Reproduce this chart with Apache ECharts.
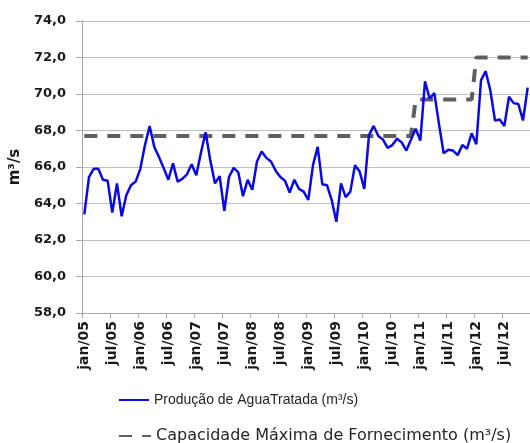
<!DOCTYPE html>
<html>
<head>
<meta charset="utf-8">
<script src="https://cdn.jsdelivr.net/npm/echarts@6/dist/echarts.min.js"></script>
<style>
html,body{margin:0;padding:0;background:#fff;}
#chart{width:530px;height:443px;}
</style>
</head>
<body>
<div id="chart"></div>
<script>
// Months jan/05 .. dec/12
const monthNames = ['jan','fev','mar','abr','mai','jun','jul','ago','set','out','nov','dez'];
const years = ['05','06','07','08','09','10','11','12'];
const categories = [];
years.forEach(y => monthNames.forEach(m => categories.push(m + '/' + y)));

const yTicks = [58, 60, 62, 64, 66, 68, 70, 72, 74];

const producao = [
  63.4, 65.45, 65.9, 65.9, 65.3, 65.25, 63.5, 65.1, 63.3, 64.45, 65.0, 65.2,
  65.9, 67.2, 68.25, 67.1, 66.55, 65.95, 65.3, 66.2, 65.2, 65.35, 65.6, 66.15,
  65.55, 66.8, 67.9, 66.35, 65.1, 65.5, 63.6, 65.45, 65.95, 65.7, 64.4, 65.3,
  64.75, 66.3, 66.85, 66.5, 66.3, 65.8, 65.45, 65.25, 64.6, 65.3, 64.8, 64.65,
  64.2, 66.1, 67.1, 65.05, 65.0, 64.2, 63.0, 65.1, 64.35, 64.65, 66.1, 65.75,
  64.8, 67.75, 68.25, 67.7, 67.5, 67.05, 67.2, 67.55, 67.35, 66.9, 67.5, 68.1,
  67.45, 70.7, 69.75, 70.05, 68.35, 66.75, 66.95, 66.9, 66.65, 67.2, 67.0, 67.85,
  67.25, 70.75, 71.25, 70.2, 68.55, 68.6, 68.25, 69.85, 69.5, 69.45, 68.55, 70.35
];

const capacidade = [
  67.7, 67.7, 67.7, 67.7, 67.7, 67.7, 67.7, 67.7, 67.7, 67.7, 67.7, 67.7,
  67.7, 67.7, 67.7, 67.7, 67.7, 67.7, 67.7, 67.7, 67.7, 67.7, 67.7, 67.7,
  67.7, 67.7, 67.7, 67.7, 67.7, 67.7, 67.7, 67.7, 67.7, 67.7, 67.7, 67.7,
  67.7, 67.7, 67.7, 67.7, 67.7, 67.7, 67.7, 67.7, 67.7, 67.7, 67.7, 67.7,
  67.7, 67.7, 67.7, 67.7, 67.7, 67.7, 67.7, 67.7, 67.7, 67.7, 67.7, 67.7,
  67.7, 67.7, 67.7, 67.7, 67.7, 67.7, 67.7, 67.7, 67.7, 67.7, 67.7, 69.7,
  69.7, 69.7, 69.7, 69.7, 69.7, 69.7, 69.7, 69.7, 69.7, 69.7, 69.7, 69.7,
  72.0, 72.0, 72.0, 72.0, 72.0, 72.0, 72.0, 72.0, 72.0, 72.0, 72.0, 72.0
];

const seriesNames = ['Produção de AguaTratada (m³/s)', 'Capacidade Máxima de Fornecimento (m³/s)'];

const hiddenSymbol = {color: 'rgba(0,0,0,0)', borderWidth: 0, opacity: 0};

const chart = echarts.init(document.getElementById('chart'), null, {renderer: 'canvas'});
chart.setOption({
  animation: false,
  backgroundColor: '#ffffff',
  grid: {left: 80, right: -1, top: 21, bottom: 130, containLabel: false},
  legend: [
    {
      data: [seriesNames[0]],
      left: 118, top: 393, padding: 0, itemWidth: 30, itemHeight: 14,
      itemStyle: hiddenSymbol,
      textStyle: {fontFamily: 'Liberation Sans', fontSize: 14, color: '#262626'}
    },
    {
      data: [seriesNames[1]],
      left: 118, top: 428, padding: 0, itemWidth: 32, itemHeight: 14,
      itemStyle: hiddenSymbol,
      textStyle: {fontFamily: 'DejaVu Sans', fontSize: 16, color: '#262626'}
    }
  ],
  xAxis: {
    type: 'category',
    data: categories,
    boundaryGap: true,
    axisLine: {show: true, lineStyle: {color: '#a6a6a6', width: 1}},
    axisTick: {show: true, interval: 5, length: 5, lineStyle: {color: '#a6a6a6'}},
    axisLabel: {
      interval: 5, rotate: 90, margin: 8,
      fontFamily: 'DejaVu Sans', fontWeight: 'bold', fontSize: 14, color: '#1a1a1a'
    },
    splitLine: {show: false}
  },
  yAxis: {
    type: 'value',
    min: yTicks[0], max: yTicks[yTicks.length - 1], interval: 2,
    name: 'm³/s',
    nameLocation: 'middle',
    nameGap: 55,
    nameTextStyle: {fontFamily: 'DejaVu Sans', fontWeight: 'bold', fontSize: 15, color: '#1a1a1a'},
    axisLine: {show: true, lineStyle: {color: '#a6a6a6', width: 1}},
    axisTick: {show: true, length: 6, lineStyle: {color: '#a6a6a6'}},
    axisLabel: {
      margin: 16,
      fontFamily: 'DejaVu Sans', fontWeight: 'bold', fontSize: 13, color: '#1a1a1a',
      formatter: v => v.toFixed(1).replace('.', ',')
    },
    splitLine: {show: true, lineStyle: {color: '#bfbfbf', width: 1}}
  },
  series: [
    {
      name: seriesNames[0],
      type: 'line',
      data: producao,
      symbol: 'none',
      z: 3,
      lineStyle: {color: '#0a0ae0', width: 2.5},
      itemStyle: {color: '#0a0ae0'}
    },
    {
      name: seriesNames[1],
      type: 'line',
      data: capacidade,
      symbol: 'none',
      z: 2,
      lineStyle: {color: '#5f5f5f', width: 4, type: [13, 10]},
      itemStyle: {color: '#5f5f5f'}
    }
  ]
});
</script>
</body>
</html>
